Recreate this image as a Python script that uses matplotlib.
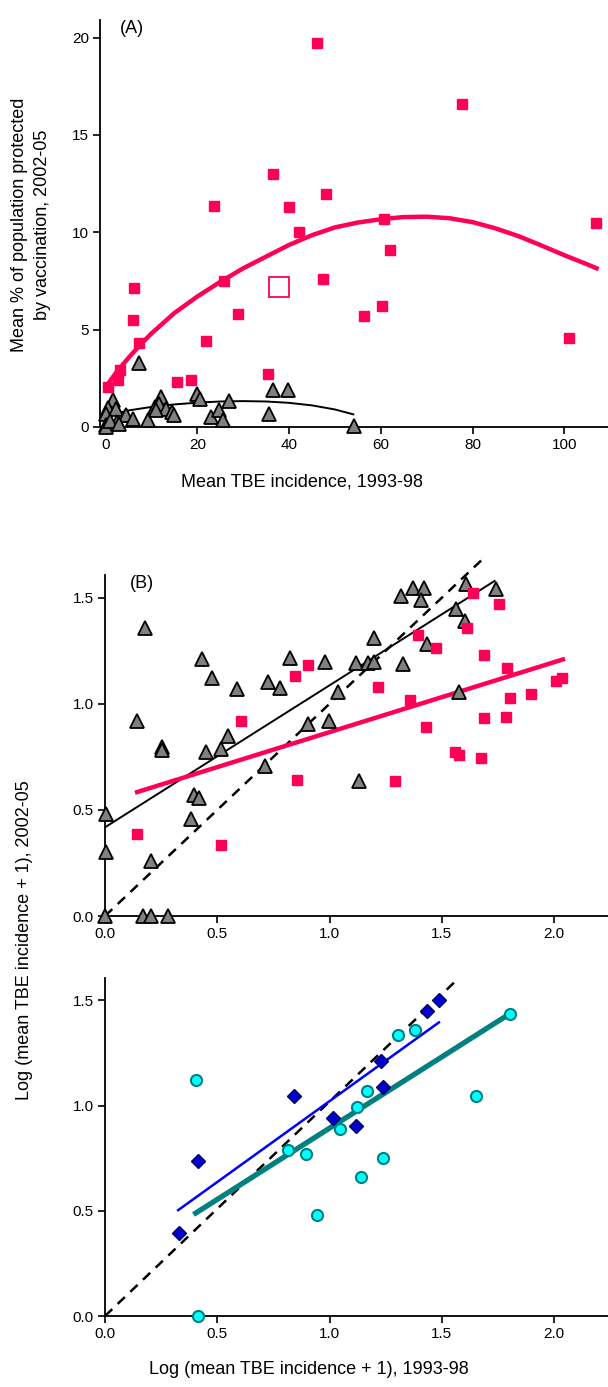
import matplotlib
matplotlib.use('Agg')
import matplotlib.pyplot as plt

plt.rcParams['font.family'] = ['Liberation Sans', 'DejaVu Sans']

# ---------- panel A data ----------
a_sq_x = [46.0, 77.6, 36.5, 48.0, 23.7, 40.0, 60.6, 106.8, 42.1, 62.1, 25.9, 47.5,
          6.3, 60.2, 56.3, 28.9, 6.1, 7.2, 21.8, 100.9, 3.2, 2.7, 0.5, 15.6, 18.7, 35.4]
a_sq_y = [19.7, 16.6, 13.0, 11.95, 11.36, 11.3, 10.67, 10.5, 10.0, 9.1, 7.5, 7.6,
          7.12, 6.23, 5.7, 5.78, 5.49, 4.29, 4.41, 4.55, 2.95, 2.4, 2.06, 2.32, 2.4, 2.71]
a_open_x = [37.8]
a_open_y = [7.17]
a_tri_x = [7.4, 1.7, 0.5, 2.2, 0.15, 0.0, 0.0, 2.4, 4.4, 5.9, 9.3, 10.8, 12.2, 11.6, 13.1,
           14.5, 15.0, 20.0, 20.6, 22.9, 24.7, 25.5, 26.9, 35.6, 36.6, 39.7, 54.2, 1.0, 3.0, 11.0]
a_tri_y = [3.29, 1.37, 1.0, 0.94, 0.69, 0.09, 0.0, 0.26, 0.6, 0.43, 0.38, 1.03, 1.54, 1.2, 0.94,
           0.77, 0.6, 1.72, 1.46, 0.51, 0.86, 0.34, 1.34, 0.69, 1.92, 1.92, 0.05, 0.3, 0.15, 0.85]
a_fit_pink_x = [0, 2.5, 5, 7.5, 10, 15, 20, 25, 30, 35, 40, 45, 50, 55, 60, 65, 70, 75,
                80, 85, 90, 95, 100, 105, 107]
a_fit_pink_y = [2.05, 2.85, 3.55, 4.2, 4.8, 5.85, 6.7, 7.45, 8.15, 8.75, 9.35, 9.85, 10.25,
                10.5, 10.67, 10.78, 10.8, 10.72, 10.52, 10.2, 9.8, 9.32, 8.82, 8.35, 8.15]
a_fit_black_x = [0, 5, 10, 15, 20, 25, 30, 35, 40, 45, 50, 54]
a_fit_black_y = [0.55, 0.85, 1.03, 1.16, 1.25, 1.31, 1.33, 1.31, 1.24, 1.11, 0.9, 0.65]

# ---------- panel B data ----------
b_tri_x = [0.179, 0.143, 0.254, 0.254, 0.431, 0.478, 0.588, 0.448, 0.518, 0.548, 0.724, 0.781,
           0.825, 0.98, 1.039, 0.906, 0.999, 1.117, 1.17, 1.2, 1.2, 1.326, 1.318, 1.373, 1.421,
           1.409, 1.435, 1.561, 1.603, 1.606, 1.74, 1.575, 0.713, 1.133, 0.397, 0.417, 0.381,
           0.003, 0.003, 0.205, 0.0, 0.171, 0.205, 0.28]
b_tri_y = [1.358, 0.918, 0.796, 0.78, 1.209, 1.123, 1.068, 0.775, 0.785, 0.85, 1.104, 1.075,
           1.217, 1.197, 1.055, 0.907, 0.921, 1.19, 1.19, 1.198, 1.311, 1.186, 1.508, 1.544, 1.547,
           1.489, 1.28, 1.445, 1.39, 1.563, 1.539, 1.057, 0.705, 0.634, 0.571, 0.555, 0.457,
           0.481, 0.303, 0.26, 0.0, 0.0, 0.0, 0.0]
b_sq_x = [1.637, 1.756, 1.611, 1.393, 1.474, 1.689, 1.79, 0.906, 0.844, 1.214, 1.359, 1.429,
          0.604, 1.686, 1.785, 1.802, 1.896, 2.008, 2.034, 1.56, 1.575, 1.673, 0.856, 1.292,
          0.143, 0.517]
b_sq_y = [1.52, 1.469, 1.358, 1.324, 1.261, 1.23, 1.167, 1.181, 1.131, 1.08, 1.02, 0.892,
          0.921, 0.934, 0.939, 1.028, 1.044, 1.107, 1.123, 0.773, 0.76, 0.745, 0.639, 0.634,
          0.386, 0.334]
b_fit_pink_x = [0.143, 2.039]
b_fit_pink_y = [0.584, 1.209]
b_fit_black_x = [0.0, 1.735]
b_fit_black_y = [0.418, 1.579]
b_one_x = [0.0, 1.69]
b_one_y = [0.0, 1.69]

# ---------- panel C data ----------
c_dia_x = [1.487, 1.433, 1.228, 1.238, 0.842, 1.014, 1.119, 0.416, 0.329]
c_dia_y = [1.5, 1.448, 1.214, 1.09, 1.046, 0.94, 0.905, 0.735, 0.392]
c_cir_x = [1.804, 1.304, 1.379, 0.407, 1.653, 1.167, 1.124, 1.045, 0.814, 0.894, 1.238,
           1.142, 0.944, 0.416]
c_cir_y = [1.437, 1.333, 1.36, 1.119, 1.046, 1.071, 0.995, 0.887, 0.788, 0.768, 0.753,
           0.659, 0.481, 0.0]
c_fit_blue_x = [0.326, 1.487]
c_fit_blue_y = [0.503, 1.395]
c_fit_teal_x = [0.404, 1.804]
c_fit_teal_y = [0.489, 1.437]
c_one_x = [0.0, 1.57]
c_one_y = [0.0, 1.60]

PINK = '#FF0055'
W, H = 608, 1387
fig = plt.figure(figsize=(W / 100, H / 100), dpi=100)


def box(left, top, right, bottom):
    return [left / W, 1 - bottom / H, (right - left) / W, (bottom - top) / H]


def style(ax):
    for s in ['top', 'right']:
        ax.spines[s].set_visible(False)
    for s in ['left', 'bottom']:
        ax.spines[s].set_linewidth(1.3)
    ax.tick_params(direction='out', length=5, width=1.2, labelsize=11, pad=3)


tri = dict(marker='^', ms=10, mfc='#808080', mec='black', mew=1.3, ls='none', clip_on=False)
sq = dict(marker='s', ms=7.5, mfc=PINK, mec=PINK, ls='none', clip_on=False)

# ---- A ----
axA = fig.add_axes(box(100, 20, 608, 427))
style(axA)
axA.plot(a_fit_pink_x, a_fit_pink_y, color=PINK, lw=3.2, zorder=2)
axA.plot(a_fit_black_x, a_fit_black_y, color='black', lw=1.4, zorder=2)
axA.plot(a_tri_x, a_tri_y, zorder=3, **tri)
axA.plot(a_sq_x, a_sq_y, zorder=4, **sq)
axA.plot(a_open_x, a_open_y, marker='s', ms=14, mfc='white', mec=PINK, mew=1.3, ls='none', zorder=4)
axA.set_xlim(-1.2, 109.5)
axA.set_ylim(0, 20.9)
axA.set_xticks([0, 20, 40, 60, 80, 100])
axA.set_yticks([0, 5, 10, 15, 20])
fig.text(31 / W, 1 - 225 / H, 'Mean % of population protected\nby vaccination, 2002-05',
         fontsize=13, ha='center', va='center', rotation=90, linespacing=1.4)
axA.text(0.04, 1.0, '(A)', transform=axA.transAxes, fontsize=13, va='top')
fig.text(302 / W, 1 - 482 / H, 'Mean TBE incidence, 1993-98', fontsize=13, ha='center', va='center')

# ---- B ----
axB = fig.add_axes(box(105, 575, 608, 916))
style(axB)
axB.plot(b_one_x, b_one_y, color='black', lw=1.8, ls=(0, (4, 3)), clip_on=False, zorder=2)
axB.plot(b_fit_black_x, b_fit_black_y, color='black', lw=1.4, zorder=2)
axB.plot(b_fit_pink_x, b_fit_pink_y, color=PINK, lw=3.2, zorder=2)
axB.plot(b_tri_x, b_tri_y, zorder=3, **tri)
axB.plot(b_sq_x, b_sq_y, zorder=4, **sq)
axB.set_xlim(0, 2.24)
axB.set_ylim(0, 1.607)
axB.set_xticks([0, 0.5, 1.0, 1.5, 2.0])
axB.set_yticks([0, 0.5, 1.0, 1.5])
axB.xaxis.set_major_formatter('{x:.1f}')
axB.yaxis.set_major_formatter('{x:.1f}')
axB.text(0.05, 1.0, '(B)', transform=axB.transAxes, fontsize=13, va='top')

# ---- C ----
axC = fig.add_axes(box(105, 978, 608, 1316))
style(axC)
axC.plot(c_one_x, c_one_y, color='black', lw=1.8, ls=(0, (4, 3)), clip_on=False, zorder=2)
axC.plot(c_fit_blue_x, c_fit_blue_y, color='#0000FF', lw=1.8, zorder=2)
axC.plot(c_fit_teal_x, c_fit_teal_y, color='#008080', lw=3.8, zorder=2)
axC.plot(c_dia_x, c_dia_y, marker='D', ms=7, mfc='#0000CC', mec='#000066', mew=1.0,
         ls='none', clip_on=False, zorder=4)
axC.plot(c_cir_x, c_cir_y, marker='o', ms=8, mfc='#00FFFF', mec='#008080', mew=1.5,
         ls='none', clip_on=False, zorder=4)
axC.set_xlim(0, 2.24)
axC.set_ylim(0, 1.606)
axC.set_xticks([0, 0.5, 1.0, 1.5, 2.0])
axC.set_yticks([0, 0.5, 1.0, 1.5])
axC.xaxis.set_major_formatter('{x:.1f}')
axC.yaxis.set_major_formatter('{x:.1f}')
fig.text(309 / W, 1 - 1370 / H, 'Log (mean TBE incidence + 1), 1993-98', fontsize=13,
         ha='center', va='center')

fig.text(25 / W, 1 - 940 / H, 'Log (mean TBE incidence + 1), 2002-05', fontsize=13,
         ha='center', va='center', rotation=90)

plt.savefig('out.png', dpi=100)
